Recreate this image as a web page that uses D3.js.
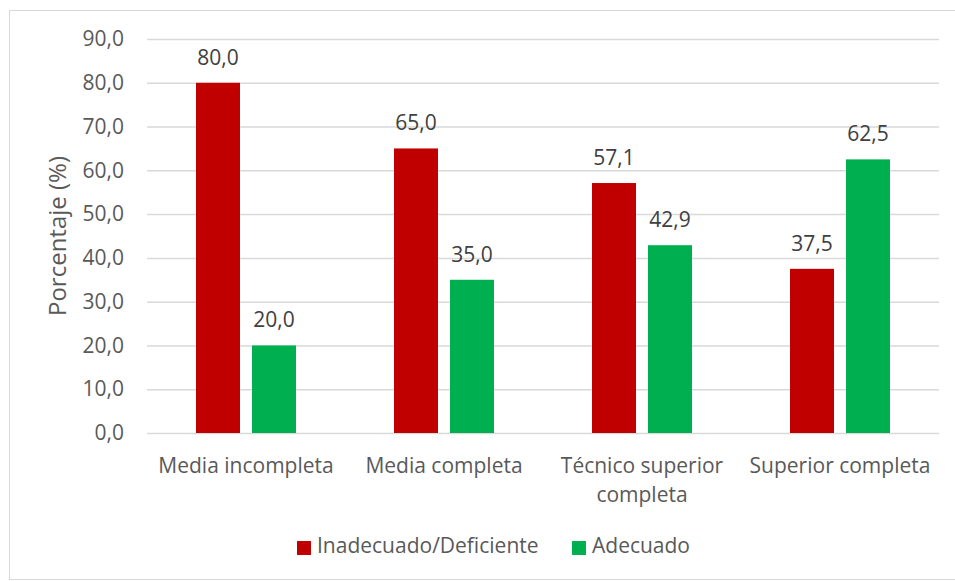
<!DOCTYPE html>
<html><head><meta charset="utf-8">
<script src="https://cdn.jsdelivr.net/npm/d3@7"></script>
<style>body{margin:0;background:#fff;} text{font-family:"Open Sans","Noto Sans",sans-serif;}</style>
</head><body>
<svg id="c" width="955" height="581"></svg>
<script>
const categories = [["Media incompleta"], ["Media completa"], ["Técnico superior", "completa"], ["Superior completa"]];
const seriesNames = ["Inadecuado/Deficiente", "Adecuado"];
const inadecuado = [80.0, 65.0, 57.1, 37.5];
const adecuado = [20.0, 35.0, 42.9, 62.5];
const yTicks = [0, 10, 20, 30, 40, 50, 60, 70, 80, 90];
const colors = ["#C00000", "#00B050"];

(function(){
const FS = 21;
const svg = d3.select("#c");
svg.append("rect").attr("x", 9.5).attr("y", 10.5).attr("width", 950).attr("height", 569)
  .attr("fill", "#fff").attr("stroke", "#d9d9d9").attr("stroke-width", 1);

const pL = 147, pR = 939, pT = 39, pB = 433;
const fmt = v => v.toFixed(1).replace(".", ",");
const y = d3.scaleLinear().domain([0, 90]).range([pB, pT]);
const idx = d3.range(categories.length);
const x0 = d3.scaleBand().domain(idx).range([pL, pR]).padding(0);
const x1 = d3.scaleBand().domain([0, 1]).range([x0.bandwidth()/2 - 50, x0.bandwidth()/2 + 50]).paddingInner(12/56).paddingOuter(0);

const yAxis = d3.axisLeft(y).tickValues(yTicks).tickSize(-(pR - pL)).tickFormat(fmt).tickPadding(23);
const ga = svg.append("g").attr("transform", `translate(${pL},0)`).call(yAxis);
ga.select(".domain").remove();
ga.selectAll(".tick line").attr("stroke", "#d9d9d9").attr("stroke-width", 1.5);
ga.selectAll(".tick text").attr("fill", "#595959").attr("font-size", FS)
  .style("font-family", '"Open Sans","Noto Sans",sans-serif');

const data = idx.map(i => [inadecuado[i], adecuado[i]]);
const groups = svg.append("g").selectAll("g").data(data).join("g")
  .attr("transform", (d, i) => `translate(${x0(i)},0)`);
groups.selectAll("rect").data(d => d).join("rect")
  .attr("x", (d, j) => x1(j)).attr("width", x1.bandwidth())
  .attr("y", d => y(d)).attr("height", d => y(0) - y(d))
  .attr("fill", (d, j) => colors[j]);
groups.selectAll("text.lbl").data(d => d).join("text").attr("class", "lbl")
  .attr("x", (d, j) => x1(j) + x1.bandwidth()/2).attr("y", d => y(d) - 18)
  .attr("text-anchor", "middle").attr("fill", "#404040").attr("font-size", FS)
  .text(d => fmt(d));

const xl = svg.append("g");
categories.forEach((lines, i) => {
  const t = xl.append("text").attr("x", x0(i) + x0.bandwidth()/2).attr("y", 473)
    .attr("text-anchor", "middle").attr("fill", "#595959").attr("font-size", FS);
  lines.forEach((l, k) => t.append("tspan").attr("x", x0(i) + x0.bandwidth()/2).attr("dy", k ? 29 : 0).text(l));
});

svg.append("text").attr("transform", `translate(66,236) rotate(-90)`)
  .attr("text-anchor", "middle").attr("fill", "#595959").attr("font-size", 24).text("Porcentaje (%)");

const lg = svg.append("g");
const lx = [297, 572];
seriesNames.forEach((n, j) => {
  lg.append("rect").attr("x", lx[j]).attr("y", 541).attr("width", 14).attr("height", 14).attr("fill", colors[j]);
  lg.append("text").attr("x", lx[j] + 20).attr("y", 553).attr("fill", "#595959").attr("font-size", FS).text(n);
});
})();
</script>
</body></html>
